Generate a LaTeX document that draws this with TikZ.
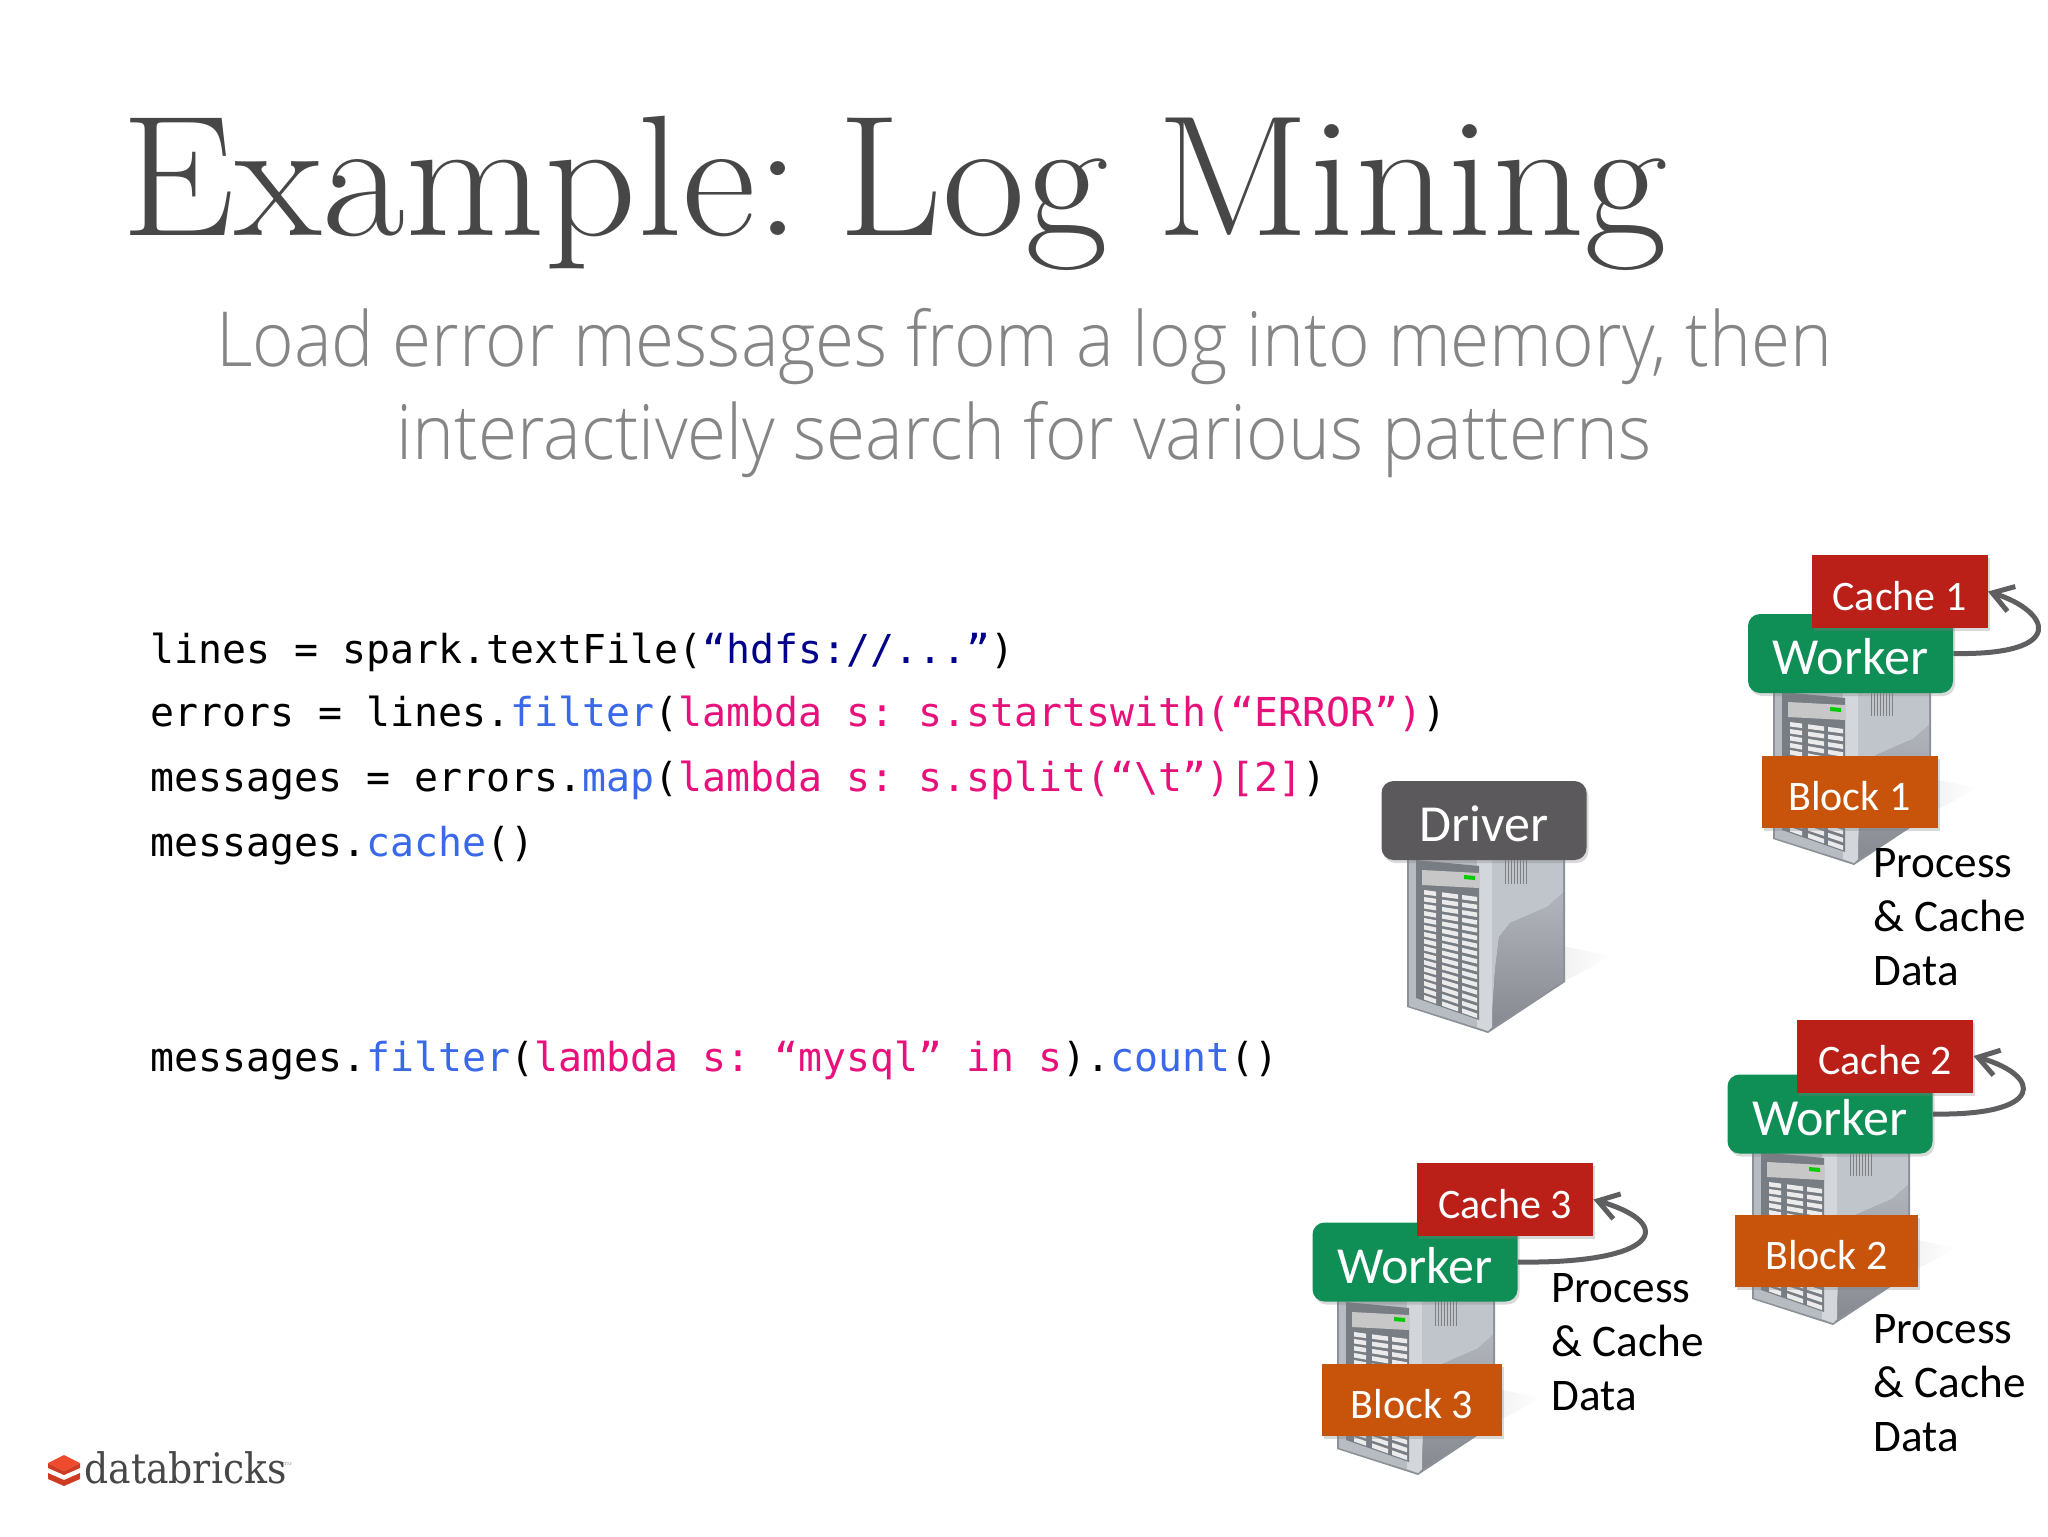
\documentclass[tikz,border=0pt]{standalone}
\usepackage{fontspec}
\usetikzlibrary{arrows.meta,shadows}
\newfontfamily\subfont{Open Sans Light}
\newfontfamily\codefont{DejaVu Sans Mono}
\newfontfamily\boxfont{Carlito}
\newfontfamily\logofont{DejaVu Serif Condensed}
\definecolor{codepink}{HTML}{E8107A}
\definecolor{codeblue}{HTML}{3A68E8}
\definecolor{codenavy}{HTML}{00008A}
\definecolor{blockorange}{HTML}{C8540C}
\definecolor{drivergray}{HTML}{5B595B}
\definecolor{loopgray}{HTML}{5F5F62}
\definecolor{cachered}{HTML}{BA1F18}
\definecolor{workgreen}{HTML}{0F8E56}
\definecolor{srvedge}{HTML}{8C9097}
\definecolor{srvfront}{HTML}{B7BBC2}
\definecolor{srvside}{HTML}{C0C4CB}
\definecolor{srvlow}{HTML}{9EA2AA}
\definecolor{srvband}{HTML}{D3D6DA}
\definecolor{srvpanel}{HTML}{787C83}
\definecolor{logotop}{HTML}{EE4A2C}
\definecolor{logoside}{HTML}{CF3A22}
\newcommand{\kw}[1]{\textcolor{codepink}{#1}}
\newcommand{\fn}[1]{\textcolor{codeblue}{#1}}
\tikzset{Shd/.style={drop shadow={shadow xshift=1pt,shadow yshift=-1.5pt,opacity=.3}}}
\tikzset{Bx/.style={Shd, text=white, inner sep=0pt, text height=19pt, font=\boxfont\fontsize{21}{25}\selectfont}}
\tikzset{Ca/.style={Bx, fill=cachered, minimum width=88pt, minimum height=36.5pt}}
\tikzset{Wk/.style={Bx, fill=workgreen, rounded corners=6pt, minimum width=102.5pt, minimum height=39.5pt, text height=21.6pt, font=\boxfont\fontsize{26}{30}\selectfont}}
\tikzset{Bl/.style={Bx, fill=blockorange, minimum width=88pt, minimum height=36pt}}
\tikzset{Dr/.style={Wk, fill=drivergray}}
\tikzset{Tx/.style={align=left, anchor=north west, inner sep=0pt, font=\boxfont\fontsize{22.6}{27}\selectfont}}
\tikzset{Co/.style={anchor=base west, inner sep=0pt, font=\codefont\frenchspacing\fontsize{19.93}{24}\selectfont}}
\tikzset{Sb/.style={anchor=base, inner sep=0pt, xscale=.935, transform shape, text=black!48, font=\subfont\fontsize{38}{46}\selectfont}}
\tikzset{Lp/.style={draw=loopgray, line width=2.5pt, -{Straight Barb[length=10pt,width=13pt,line width=2.5pt]}}}
\tikzset{server/.pic={
    \shade[left color=black!6, right color=white] (150,125) -- (205,96) -- (150,85) -- cycle;
    \fill[srvedge] (0,-5) -- (0,147) -- (81,173) -- (158,122) -- (158,-5) -- cycle;
    \fill[srvfront] (2,-5) -- (2,146) -- (81,171) -- (81,-5) -- cycle;
    \fill[srvside] (85,-5) -- (156,-5) -- (156,33) -- (140,47) -- (103,63) -- (92,77) -- (88,110) -- (85,150) -- cycle;
    \shade[top color=srvlow!80!white, bottom color=srvlow!85!black] (156,33) -- (140,47) -- (103,63) -- (92,77) -- (88,110) -- (85,167) -- (156,121) -- cycle;
    \fill[srvband] (70,-5) -- (85,-5) -- (85,167) -- (81,171) -- (70,167) -- cycle;
    \fill[srvpanel] (9,0) -- (72,6) -- (72,160) -- (9,138) -- cycle;
    \fill[black!22] (15,10) -- (72,13) -- (72,28) -- (15,25) -- cycle;
    \fill[green!80!black] (57,15) -- (68,16) -- (68,20) -- (57,19) -- cycle;
    \foreach \r in {0,...,15}
        \foreach \a/\b in {17/29,35/51,55/70}{
            \pgfmathsetmacro{\ya}{30+\r*7+(\a-17)*(.13+\r*.0147)}
            \pgfmathsetmacro{\yb}{30+\r*7+(\b-17)*(.13+\r*.0147)}
            \fill[black!8] (\a,\ya) -- (\b,\yb) -- (\b,\yb+4.5) -- (\a,\ya+4.5) -- cycle;
        }
    \foreach \v in {98,101,...,120}
        \draw[black!50, line width=.5pt] (\v,-5) -- (\v,24);
}}
\begin{document}
\begin{tikzpicture}[x=.5pt,y=-.5pt]
    \useasboundingbox (0,0) rectangle (2048,1536);
    \node[anchor=base west, inner sep=0pt, xscale=1.05, transform shape, text=black!72, font=\frenchspacing\fontsize{86}{90}\selectfont] (title) at (121,235) {Example:\hspace{-8pt} Log\hspace{-3pt} Mining};
    \node[Sb] (sub1) at (1024,366) {Load error messages from a log into memory, then};
    \node[Sb] (sub2) at (1024,459) {interactively search for various patterns};

    \node[Co] (code1) at (150,663) {lines = spark.textFile(\textcolor{codenavy}{“hdfs://...”})};
    \node[Co] (code2) at (150,726) {errors = lines.\fn{filter}(\kw{lambda s: s.startswith(“ERROR”)})};
    \node[Co] (code3) at (150,791) {messages = errors.\fn{map}(\kw{lambda s: s.split(“\textbackslash t”)[2]})};
    \node[Co] (code4) at (150,856) {messages.\fn{cache}()};
    \node[Co] (code5) at (150,1071) {messages.\fn{filter}(\kw{lambda s: “mysql” in s}).\fn{count}()};

    \pic at (1407,860) {server};
    \pic at (1773,692) {server};
    \pic at (1752,1152) {server};
    \pic at (1337,1302) {server};

    \node[Dr] (driver) at (1484,820.5) {Driver};

    \node[Wk] (w1) at (1850.5,653.5) {Worker};
    \node[Ca] (c1) at (1899.5,591.5) {Cache 1};
    \node[Bl] (b1) at (1849.5,791.5) {Block 1};
    \node[Tx] (t1) at (1873,848) {Process\\\& Cache\\Data};
    \draw[Lp] (w1.east) .. controls +(115,2) and +(63,20) .. (c1.east);

    \node[Wk] (w2) at (1830,1114) {Worker};
    \node[Ca] (c2) at (1885,1056) {Cache 2};
    \node[Bl, minimum width=91.5pt] (b2) at (1826.5,1251) {Block 2};
    \node[Tx] (t2) at (1873,1314) {Process\\\& Cache\\Data};
    \draw[Lp] (w2.east) .. controls +(112,2) and +(70,20) .. (c2.east);

    \node[Wk] (w3) at (1415,1262) {Worker};
    \node[Ca] (c3) at (1505,1199.5) {Cache 3};
    \node[Bl, minimum width=90pt] (b3) at (1412,1399.5) {Block 3};
    \node[Tx] (t3) at (1551,1273) {Process\\\& Cache\\Data};
    \draw[Lp] (w3.east) .. controls +(140,2) and +(85,25) .. (c3.east);

    \fill[logoside] (48,1473) -- (64,1480) -- (80,1473) -- (80,1479) -- (64,1486) -- (48,1479) -- cycle;
    \fill[logoside] (48,1463) -- (64,1471) -- (80,1463) -- (80,1468) -- (64,1475) -- (48,1468) -- cycle;
    \fill[logotop] (48,1463) -- (64,1455) -- (80,1463) -- (64,1471) -- cycle;
    \node[anchor=base west, inner sep=0pt, text=black!72, font=\logofont\fontsize{21}{26}\selectfont] (logo) at (84,1483) {databricks};
    \node[anchor=base west, inner sep=0pt, text=black!50, font=\fontsize{3.5}{4}\selectfont] (tm) at (283,1467) {™};
\end{tikzpicture}
\end{document}
